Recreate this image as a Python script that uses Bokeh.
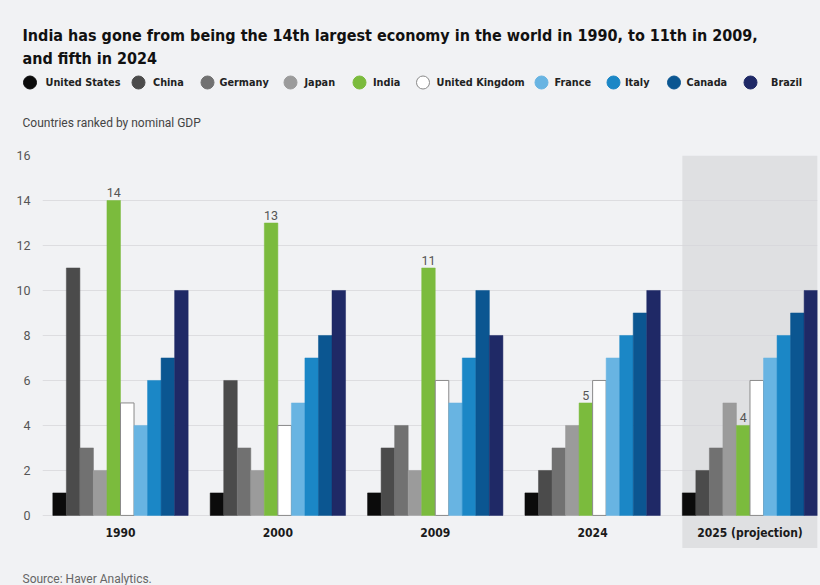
from bokeh.plotting import figure
from bokeh.layouts import column
from bokeh.models import BoxAnnotation, FixedTicker, ColumnDataSource, Range1d
from bokeh.embed import file_html
from bokeh.resources import INLINE
from bokeh.core.properties import value

years = ["1990", "2000", "2009", "2024", "2025 (projection)"]
countries = ["United States", "China", "Germany", "Japan", "India",
             "United Kingdom", "France", "Italy", "Canada", "Brazil"]
colors = ["#0b0b0b", "#4b4b4b", "#717171", "#9b9b9b", "#7bbb3d",
          "#ffffff", "#68b4e2", "#1b87c6", "#0b5691", "#1f2966"]
us = [1, 1, 1, 1, 1]
china = [11, 6, 3, 2, 2]
germany = [3, 3, 4, 3, 3]
japan = [2, 2, 2, 4, 5]
india = [14, 13, 11, 5, 4]
uk = [5, 4, 6, 6, 6]
france = [4, 5, 5, 7, 7]
italy = [6, 7, 7, 8, 8]
canada = [7, 8, 10, 9, 9]
brazil = [10, 10, 8, 10, 10]
series = [us, china, germany, japan, india, uk, france, italy, canada, brazil]
y_ticks = [0, 2, 4, 6, 8, 10, 12, 14, 16]

title_lines = ["India has gone from being the 14th largest economy in the world in 1990, to 11th in 2009,",
               "and fifth in 2024"]
subtitle = "Countries ranked by nominal GDP"
source_note = "Source: Haver Analytics."

# ---- layout / style (pixels) ----
BG = "#f1f2f4"
NARROW = "DejaVu Sans Condensed, Liberation Sans Narrow, sans-serif"
LIGHT = "Roboto, sans-serif"
W = 820
HEAD_H = 145
FOOT_H = 37
CHART_H = 585 - HEAD_H - FOOT_H
legend_circle_x = [29.5, 138, 207, 290, 359, 422.5, 541, 613, 673.5, 750]
legend_text_x = [45, 152.5, 219, 304, 372.5, 436, 554, 624.5, 686, 770.5]
legend_y = 82
bar_w = 0.086
n = len(countries)


def blank(h):
    f = figure(width=W, height=h, x_range=Range1d(0, W), y_range=Range1d(h, 0),
               x_axis_location=None, y_axis_location=None,
               min_border=0, background_fill_color=BG, border_fill_color=BG,
               outline_line_color=None, toolbar_location=None, output_backend="svg")
    f.grid.visible = False
    f.frame_align = False
    return f


# ---- header ----
head = blank(HEAD_H)
head.text(x=[22, 22], y=[35, 58], text=title_lines, text_baseline="alphabetic",
          text_font=value(NARROW), text_font_style="bold", text_font_size="16px",
          text_color="#111111")
head.scatter(x=legend_circle_x, y=[legend_y] * n, marker="circle", size=13,
             fill_color=colors,
             line_color=["#8a8a8a" if c == "#ffffff" else c for c in colors], line_width=1)
head.text(x=legend_text_x, y=[legend_y] * n, text=countries, text_baseline="middle",
          text_font=value(NARROW), text_font_style="bold", text_font_size="10.8px",
          text_color="#222222")
head.text(x=[22], y=[122], text=[subtitle], text_baseline="middle",
          text_font=value(LIGHT), text_font_size="12px", text_color="#444444")

# ---- chart ----
p = figure(width=W, height=CHART_H, x_range=(-0.4956, 4.429), y_range=(-1.47, 16),
           x_axis_location=None, y_axis_location="left",
           min_border_left=42, min_border_right=3, min_border_top=10, min_border_bottom=0,
           background_fill_color=BG, border_fill_color=BG, outline_line_color=None,
           toolbar_location=None, output_backend="svg")
p.frame_align = False

proj = len(years) - 1
p.add_layout(BoxAnnotation(left=proj - n * bar_w / 2, right=proj + n * bar_w / 2,
                           bottom=-1.47, top=16, level="image",
                           fill_color="#dfe0e2", fill_alpha=1, line_alpha=0))

p.xgrid.visible = False
p.ygrid.ticker = FixedTicker(ticks=y_ticks)
p.ygrid.grid_line_color = "#d6d6da"
p.ygrid.grid_line_alpha = 0.75

p.yaxis.ticker = FixedTicker(ticks=y_ticks)
p.yaxis.axis_line_color = None
p.yaxis.major_tick_line_color = None
p.yaxis.minor_tick_line_color = None
p.yaxis.major_label_standoff = 6
p.yaxis.major_label_text_font = LIGHT
p.yaxis.major_label_text_font_size = "12.5px"
p.yaxis.major_label_text_color = "#555555"

for j, (name, col, vals) in enumerate(zip(countries, colors, series)):
    xs = [i + (j - (n - 1) / 2) * bar_w for i in range(len(years))]
    src = ColumnDataSource(dict(x=xs, top=vals))
    is_white = col == "#ffffff"
    p.vbar(x="x", top="top", bottom=0, width=bar_w, source=src,
           fill_color=col, line_color="#8a8a8a" if is_white else col,
           line_width=1 if is_white else 0.5)
    if name == "India":
        p.text(x=xs, y=vals, text=[str(v) for v in vals], y_offset=-3,
               text_align="center", text_baseline="bottom",
               text_font=value(LIGHT), text_font_size="12.5px", text_color="#555555")

p.text(x=list(range(len(years))), y=[-0.76] * len(years), text=years,
       text_align="center", text_baseline="middle", text_font=value(NARROW),
       text_font_style="bold", text_font_size="12px", text_color="#1a1a1a")

# ---- footer ----
foot = blank(FOOT_H)
foot.text(x=[22], y=[30], text=[source_note], text_baseline="middle",
          text_font=value(LIGHT), text_font_size="12px", text_color="#666666")

layout = column(head, p, foot, spacing=0, styles={"background-color": BG})
open("out.html", "w").write(file_html(layout, INLINE))
